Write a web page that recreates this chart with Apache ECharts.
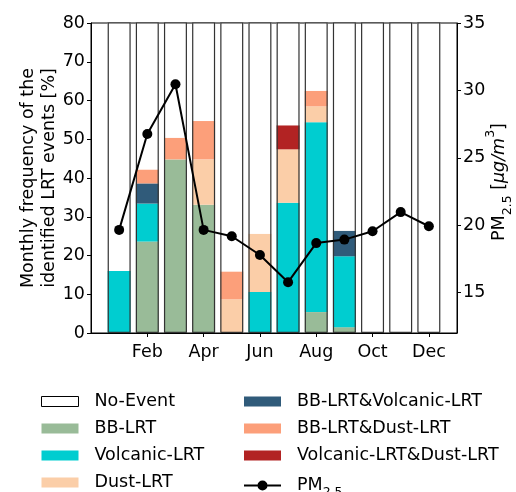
<!DOCTYPE html>
<html><head><meta charset="utf-8">
<script src="https://cdn.jsdelivr.net/npm/echarts@6/dist/echarts.min.js"></script>
<style>html,body{margin:0;padding:0;background:#fff}#c{width:516px;height:492px}</style>
</head><body><div id="c"></div>
<script>
const months = ['Jan','Feb','Mar','Apr','May','Jun','Jul','Aug','Sep','Oct','Nov','Dec'];
const tickLabels = ['Feb','Apr','Jun','Aug','Oct','Dec'];
const bbLRT    = [0, 23.6, 44.8, 33.1, 0, 0, 0, 5.4, 1.5, 0, 0, 0];
const volcLRT  = [16.0, 9.8, 0, 0, 0, 10.6, 33.6, 49.0, 18.3, 0, 0, 0];
const dustLRT  = [0, 0, 0, 11.7, 8.7, 15.0, 13.8, 4.1, 0, 0, 0, 0];
const bbVolc   = [0, 5.2, 0, 0, 0, 0, 0, 0, 6.6, 0, 0, 0];
const bbDust   = [0, 3.6, 5.6, 9.9, 7.2, 0, 0, 4.0, 0, 0, 0, 0];
const volcDust = [0, 0, 0, 0, 0, 0, 6.2, 0, 0, 0, 0, 0];
const pm25     = [19.65, 26.76, 30.46, 19.65, 19.18, 17.79, 15.77, 18.67, 18.93, 19.55, 20.97, 19.92];
const rightTicks = [15,20,25,30,35];

const eventSeries = [
  ['BB-LRT', bbLRT, '#99bb98'],
  ['Volcanic-LRT', volcLRT, '#00cdd0'],
  ['Dust-LRT', dustLRT, '#fbcea8'],
  ['BB-LRT&Volcanic-LRT', bbVolc, '#305b7a'],
  ['BB-LRT&Dust-LRT', bbDust, '#fc9f7a'],
  ['Volcanic-LRT&Dust-LRT', volcDust, '#b22323']
];
const noEvent = months.map((m,i)=> 100 - eventSeries.reduce((s,e)=>s+e[1][i],0));
const total = months.map((m,i)=> noEvent[i] + eventSeries.reduce((s,e)=>s+e[1][i],0));

// x axis spans one empty slot on each side of Jan..Dec
const cats = [''].concat(months, ['']);
const pad = arr => [null].concat(arr, [null]);

const FONT = 'DejaVu Sans';
const FS = 17.5;
const BW = 23;
const edge = '#333333';

const series = [];
eventSeries.forEach(([name, vals, col]) => {
  series.push({
    name, type:'bar', stack:'ev', barWidth:BW, barGap:'-100%',
    data: pad(vals.map(v => v > 0 ? v : null)),
    itemStyle:{color:col},
    emphasis:{disabled:true}, silent:true
  });
});
series.push({
  name:'No-Event', type:'bar', stack:'ev', barWidth:BW, barGap:'-100%',
  data: pad(noEvent),
  itemStyle:{color:'#ffffff', borderColor:edge, borderWidth:0},
  emphasis:{disabled:true}, silent:true
});
series.push({
  name:'frame', type:'bar', stack:'frame', barWidth:BW, barGap:'-100%',
  data: pad(total),
  itemStyle:{color:'rgba(0,0,0,0)', borderColor:edge, borderWidth:1.2},
  emphasis:{disabled:true}, silent:true, z:3
});
series.push({
  name:'PM2.5', type:'line', yAxisIndex:1,
  data: pad(pm25),
  symbol:'circle', symbolSize:10,
  lineStyle:{color:'#000', width:2}, itemStyle:{color:'#000'},
  emphasis:{disabled:true}, silent:true, z:5
});

const showTick = (idx, val) => tickLabels.indexOf(cats[idx]) >= 0;
const axisText = {color:'#000', fontFamily:FONT, fontSize:FS};
const legendText = {color:'#000', fontFamily:FONT, fontSize:FS, lineHeight:21, padding:[0,0,0,11]};
const rectItem = n => ({name:n, icon:'rect'});
const lineMarkerIcon = 'path://M0,4 L37,4 L37,6 L0,6 Z M13.5,5 A5,5 0 1 1 23.5,5 A5,5 0 1 1 13.5,5 Z';
const chart = echarts.init(document.getElementById('c'), null, {renderer:'canvas'});
chart.setOption({
  animation:false,
  backgroundColor:'#fff',
  grid:{left:91, right:59, top:23, bottom:159, show:true, borderColor:'#000', borderWidth:1,
        backgroundColor:'rgba(0,0,0,0)', containLabel:false, outerBoundsMode:'none'},
  xAxis:{type:'category', data:cats, boundaryGap:false,
    axisLine:{show:true, lineStyle:{color:'#000', width:1}},
    axisTick:{show:true, length:4, lineStyle:{color:'#000'}, interval:showTick},
    axisLabel:Object.assign({interval:showTick, margin:10}, axisText),
    splitLine:{show:false}},
  yAxis:[
    {type:'value', min:0, max:80, interval:10, position:'left',
     axisLine:{show:true, lineStyle:{color:'#000'}},
     axisTick:{show:true, length:4, lineStyle:{color:'#000'}},
     axisLabel:Object.assign({margin:6}, axisText),
     splitLine:{show:false},
     name:'Monthly frequency of the\nidentified LRT events [%]',
     nameLocation:'middle', nameRotate:90, nameGap:31, nameMoveOverlap:false,
     nameTextStyle:{color:'#000', fontFamily:FONT, fontSize:FS, lineHeight:21}},
    {type:'value', min:12, max:35, position:'right',
     axisLine:{show:true, lineStyle:{color:'#000'}},
     axisTick:{show:true, length:4, lineStyle:{color:'#000'}, customValues:rightTicks},
     axisLabel:Object.assign({margin:6, customValues:rightTicks}, axisText),
     splitLine:{show:false},
     name:'{a|PM}{sub|2.5}{a| [}{i|μg/m}{sup|3}{a|]}',
     nameLocation:'middle', nameRotate:90, nameGap:27, nameMoveOverlap:false,
     nameTextStyle:{color:'#000', fontFamily:FONT, fontSize:FS, padding:[0,8,0,0],
       rich:{
         a:{fontFamily:FONT, fontSize:FS, color:'#000', lineHeight:22, verticalAlign:'middle'},
         i:{fontFamily:FONT, fontSize:FS, color:'#000', fontStyle:'italic', lineHeight:22, verticalAlign:'middle'},
         sub:{fontFamily:FONT, fontSize:12.5, color:'#000', lineHeight:30, verticalAlign:'bottom'},
         sup:{fontFamily:FONT, fontSize:12.5, color:'#000', lineHeight:30, verticalAlign:'top'}
       }}}
  ],
  legend:[
    {orient:'vertical', left:41, top:391, height:140, padding:0, itemWidth:37, itemHeight:10, itemGap:6,
     data:[{name:'No-Event', icon:'rect', itemStyle:{color:'#fff', borderColor:'#000', borderWidth:1}},
           rectItem('BB-LRT'), rectItem('Volcanic-LRT'), rectItem('Dust-LRT')],
     textStyle:legendText, selectedMode:false},
    {orient:'vertical', left:244, top:391, height:140, padding:0, itemWidth:37, itemHeight:10, itemGap:6,
     data:[rectItem('BB-LRT&Volcanic-LRT'), rectItem('BB-LRT&Dust-LRT'), rectItem('Volcanic-LRT&Dust-LRT'),
           {name:'PM2.5', icon:lineMarkerIcon}],
     formatter:n=> n==='PM2.5' ? '{a|PM}{sub|2.5}' : n,
     textStyle:Object.assign({}, legendText, {
       rich:{a:{fontFamily:FONT, fontSize:FS, color:'#000', lineHeight:21, verticalAlign:'middle'},
             sub:{fontFamily:FONT, fontSize:12.5, color:'#000', lineHeight:27, verticalAlign:'bottom'}}}),
     selectedMode:false}
  ],
  series
});
</script></body></html>
